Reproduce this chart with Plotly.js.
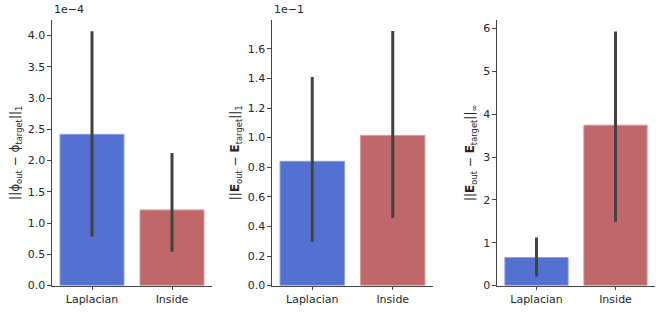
<!DOCTYPE html>
<html>
<head>
<meta charset="utf-8">
<script src="https://cdn.plot.ly/plotly-3.0.1.min.js"></script>
<style>html,body{margin:0;padding:0;background:#fff;}#chart{width:664px;height:313px;}</style>
</head>
<body>
<div id="chart"></div>
<script>
// Data
const categories = ["Laplacian", "Inside"];
const barColors = ["#5470d1", "#c0676a"];

// Panel 1: ||phi_out - phi_target||_1  (scale 1e-4)
const phiMean = [2.42e-4, 1.21e-4];
const phiLow  = [0.78e-4, 0.54e-4];
const phiHigh = [4.07e-4, 2.12e-4];

// Panel 2: ||E_out - E_target||_1  (scale 1e-1)
const e1Mean = [0.0840, 0.1015];
const e1Low  = [0.0294, 0.0457];
const e1High = [0.1410, 0.1720];

// Panel 3: ||E_out - E_target||_inf
const einfMean = [0.655, 3.745];
const einfLow  = [0.21, 1.49];
const einfHigh = [1.12, 5.93];

const scales = [1e-4, 1e-1, 1];
const scaleLabels = ["1e\u22124", "1e\u22121", ""];
const yTitles = [
  "||\u03d5<sub>out</sub> \u2212 \u03d5<sub>target</sub>||<sub>1</sub>",
  "||<b>E</b><sub>out</sub> \u2212 <b>E</b><sub>target</sub>||<sub>1</sub>",
  "||<b>E</b><sub>out</sub> \u2212 <b>E</b><sub>target</sub>||<sub>\u221e</sub>"
];
const yRanges = [[0, 4.25], [0, 1.795], [0, 6.2]];
const yDticks = [0.5, 0.2, 1];
const yFormats = [".1f", ".1f", "d"];

const W = 664, H = 313;
const xPix = [[52, 212], [272, 433], [497, 655]];
const yBottom = 285.6, yTop = 20;

const panels = [
  [phiMean, phiLow, phiHigh],
  [e1Mean, e1Low, e1High],
  [einfMean, einfLow, einfHigh]
];

const tickFont = {family: "DejaVu Sans", size: 11, color: "#262626"};
const traces = [];
const layout = {
  width: W, height: H,
  margin: {l: 0, r: 0, t: 0, b: 0},
  paper_bgcolor: "#fff", plot_bgcolor: "#fff",
  showlegend: false,
  font: {family: "DejaVu Sans", size: 11, color: "#262626"},
  annotations: []
};

panels.forEach((p, i) => {
  const s = scales[i];
  const mean = p[0].map(v => v / s);
  const lo = p[1].map(v => v / s);
  const hi = p[2].map(v => v / s);
  const ax = i === 0 ? "" : String(i + 1);
  traces.push({
    type: "bar",
    x: categories,
    y: mean,
    xaxis: "x" + ax,
    yaxis: "y" + ax,
    width: 0.8,
    marker: {color: barColors, line: {color: ["#8a9de0", "#d49a9c"], width: 1}},
    error_y: {
      type: "data", symmetric: false,
      array: hi.map((h, k) => h - mean[k]),
      arrayminus: mean.map((m, k) => m - lo[k]),
      color: "#424242", thickness: 3, width: 0
    },
    hoverinfo: "skip"
  });
  layout["xaxis" + ax] = {
    domain: [xPix[i][0] / W, xPix[i][1] / W],
    anchor: "y" + ax,
    range: [-0.5, 1.5],
    showline: true, linecolor: "#444", linewidth: 1.2,
    ticks: "outside", ticklen: 3.5, tickcolor: "#444", tickwidth: 1,
    showgrid: false, zeroline: false,
    tickfont: tickFont,
    fixedrange: true
  };
  layout["yaxis" + ax] = {
    domain: [(H - yBottom) / H, (H - yTop) / H],
    anchor: "x" + ax,
    range: yRanges[i],
    dtick: yDticks[i], tick0: 0,
    tickformat: yFormats[i],
    showline: true, linecolor: "#444", linewidth: 1.2,
    ticks: "outside", ticklen: 3.5, tickcolor: "#444", tickwidth: 1,
    showgrid: false, zeroline: false,
    tickfont: tickFont,
    title: {text: yTitles[i], font: {family: "DejaVu Sans", size: 12, color: "#262626"}, standoff: 5},
    fixedrange: true
  };
  if (scaleLabels[i]) {
    layout.annotations.push({
      xref: "paper", yref: "paper",
      x: xPix[i][0] / W, y: (H - yTop + 2) / H,
      xanchor: "left", yanchor: "bottom",
      text: scaleLabels[i], showarrow: false,
      font: tickFont
    });
  }
});

Plotly.newPlot("chart", traces, layout, {displayModeBar: false});
</script>
</body>
</html>
